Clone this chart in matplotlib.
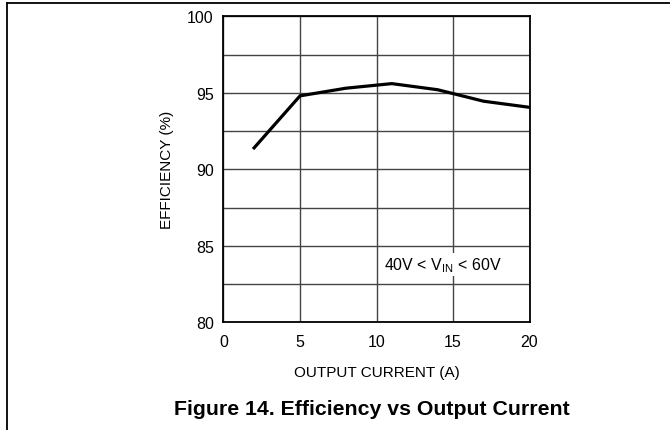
import matplotlib
matplotlib.use("Agg")
import matplotlib.pyplot as plt
from matplotlib.lines import Line2D

plt.rcParams['font.family'] = ['Liberation Sans', 'DejaVu Sans']
plt.rcParams['mathtext.fontset'] = 'custom'
plt.rcParams['mathtext.rm'] = 'Liberation Sans'

current = [2, 5, 8, 11, 14, 15, 17, 20]
efficiency = [91.4, 94.8, 95.3, 95.6, 95.2, 94.95, 94.45, 94.05]
x_ticks = [0, 5, 10, 15, 20]
y_ticks = [80, 85, 90, 95, 100]

W, H = 670, 431
fig = plt.figure(figsize=(W / 100, H / 100), dpi=100)
ax = fig.add_axes([223.5 / W, 1 - 323.3 / H, 306 / W, 306 / H])

ax.plot(current, efficiency, color='black', lw=2.3, solid_joinstyle='miter', zorder=3)
ax.set_xlim(0, 20)
ax.set_ylim(80, 100)
ax.set_xticks(x_ticks)
ax.set_yticks(y_ticks)
ax.set_yticks([82.5, 87.5, 92.5, 97.5], minor=True)
ax.grid(True, which='both', color='#444444', lw=1.0)
ax.tick_params(which='both', length=0, labelsize=11.5)
ax.tick_params(axis='y', pad=7)
ax.tick_params(axis='x', pad=8.5)
for s in ax.spines.values():
    s.set_linewidth(1.3)
ax.set_xlabel('OUTPUT CURRENT (A)', fontsize=11, va='center')
ax.set_ylabel('EFFICIENCY (%)', fontsize=11, va='center')
ax.xaxis.set_label_coords(0.5, (323.3 - 373) / 306)
ax.yaxis.set_label_coords((167 - 223.5) / 306, 0.5)

ax.text(10.5, 83.75, r'40V < V$_{\mathrm{IN}}$ < 60V', fontsize=11.5, va='center', ha='left',
        bbox=dict(facecolor='white', edgecolor='none', pad=1.5), zorder=4)

fig.text(372 / W, 1 - 415 / H, 'Figure 14. Efficiency vs Output Current', fontsize=15.3,
         fontweight='bold', ha='center', va='baseline')

fig.add_artist(Line2D([7 / W, 7 / W], [0, 1 - 4 / H], color='black', lw=1.3, transform=fig.transFigure))
fig.add_artist(Line2D([7 / W, 1], [1 - 4 / H, 1 - 4 / H], color='black', lw=1.3, transform=fig.transFigure))

fig.savefig('out.png', dpi=100)
